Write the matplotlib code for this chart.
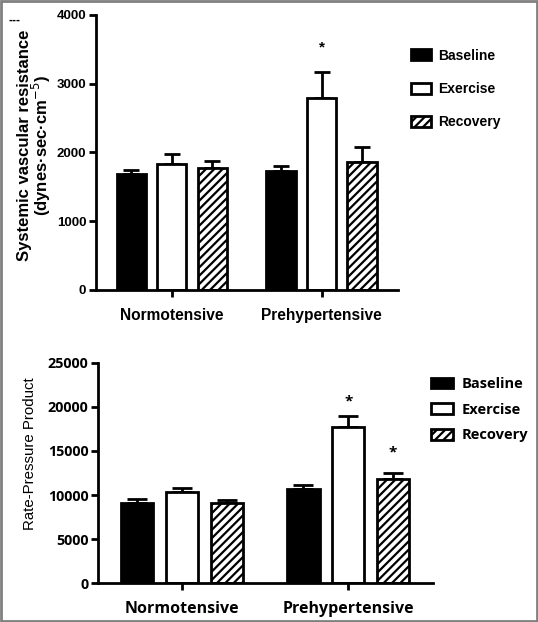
import matplotlib
matplotlib.use("Agg")
import matplotlib.pyplot as plt
import numpy as np
from matplotlib.patches import Rectangle

groups = ["Normotensive", "Prehypertensive"]
conditions = ["Baseline", "Exercise", "Recovery"]

# systemic vascular resistance (dynes·sec·cm-5), mean and SEM
svr_mean = {"Baseline": [1690, 1730], "Exercise": [1830, 2790], "Recovery": [1775, 1865]}
svr_err = {"Baseline": [55, 75], "Exercise": [150, 380], "Recovery": [105, 215]}
svr_ticks = [0, 1000, 2000, 3000, 4000]

# rate-pressure product, mean and SEM
rpp_mean = {"Baseline": [9100, 10680], "Exercise": [10350, 17730], "Recovery": [9080, 11820]}
rpp_err = {"Baseline": [450, 460], "Exercise": [450, 1250], "Recovery": [350, 680]}
rpp_ticks = [0, 5000, 10000, 15000, 20000, 25000]

narrow = ["Liberation Sans", "DejaVu Sans"]
wide = ["Open Sans", "DejaVu Sans"]

plt.rcParams["hatch.linewidth"] = 1.6

fig = plt.figure(figsize=(5.38, 6.22), dpi=100)
fig.patches.append(Rectangle((0.002, 0.002), 0.996, 0.996, transform=fig.transFigure,
                             fill=False, edgecolor="#808080", linewidth=2))

styles = {"Baseline": dict(color="black", edgecolor="black"),
          "Exercise": dict(color="white", edgecolor="black"),
          "Recovery": dict(color="white", edgecolor="black", hatch="////")}


def draw_panel(ax, means, errs, ticks, ymax, font, tick_size, xlab_size, stars, cap):
    x = np.arange(len(groups))
    offsets = [-0.27, 0, 0.27]
    handles = []
    for off, cond in zip(offsets, conditions):
        b = ax.bar(x + off, means[cond], width=0.195, linewidth=2, label=cond,
                   zorder=2, **styles[cond])
        handles.append(b)
        ax.errorbar(x + off, means[cond], yerr=[np.zeros(2), errs[cond]], fmt="none",
                    ecolor="black", elinewidth=2, capsize=cap, capthick=2, zorder=1)
    # significance stars: (group, condition, gap above error bar as share of ymax)
    for gi, ci, gap in stars:
        cond = conditions[ci]
        top = means[cond][gi] + errs[cond][gi]
        ax.text(x[gi] + offsets[ci], top + ymax * gap, "*", ha="center", va="center",
                fontsize=11, fontweight="bold", family=font)
    ax.set_xlim(-0.505, 1.51)
    ax.set_ylim(0, ymax)
    ax.set_yticks(ticks)
    ax.set_xticks(x)
    ax.set_xticklabels(groups, fontsize=xlab_size, fontweight="bold", family=font)
    for lab in ax.get_yticklabels():
        lab.set_fontsize(tick_size)
        lab.set_fontweight("bold")
        lab.set_family(font)
    ax.spines["top"].set_visible(False)
    ax.spines["right"].set_visible(False)
    ax.spines["left"].set_linewidth(2)
    ax.spines["bottom"].set_linewidth(2)
    ax.tick_params(axis="y", width=2, length=5, pad=2)
    ax.tick_params(axis="x", width=2, length=5, pad=8)
    return handles


# top panel
ax1 = fig.add_axes([0.1784, 0.5338, 0.5613, 0.4421])
h1 = draw_panel(ax1, svr_mean, svr_err, svr_ticks, 4000, narrow, 9.5, 11.2,
                [(1, 1, 0.09)], 6)
ax1.set_ylabel("Systemic vascular resistance\n(dynes·sec·cm$^{-5}$)", fontsize=12,
               fontweight="bold", family=narrow, linespacing=0.9)
ax1.yaxis.set_label_coords(-0.142, 0.527)
fig.legend(handles=h1, labels=conditions, loc="upper left", bbox_to_anchor=(0.74, 0.942),
           frameon=False, prop={"family": narrow, "weight": "bold", "size": 10},
           handlelength=1.45, handleheight=0.85, labelspacing=1.4, handletextpad=0.55)
fig.text(0.015, 0.962, "---", fontsize=7, fontweight="bold")

# bottom panel
ax2 = fig.add_axes([0.1822, 0.0627, 0.6227, 0.3537])
h2 = draw_panel(ax2, rpp_mean, rpp_err, rpp_ticks, 25000, wide, 10.3, 11.5,
                [(1, 1, 0.068), (1, 2, 0.094)], 7)
ax2.set_ylabel("Rate-Pressure Product", fontsize=10.8, family=narrow)
ax2.yaxis.set_label_coords(-0.182, 0.59)
fig.legend(handles=h2, labels=conditions, loc="upper left", bbox_to_anchor=(0.777, 0.415),
           frameon=False, prop={"family": wide, "weight": "bold", "size": 10.5},
           handlelength=1.5, handleheight=0.75, labelspacing=0.8, handletextpad=0.6)

fig.savefig("out.png", dpi=100)
